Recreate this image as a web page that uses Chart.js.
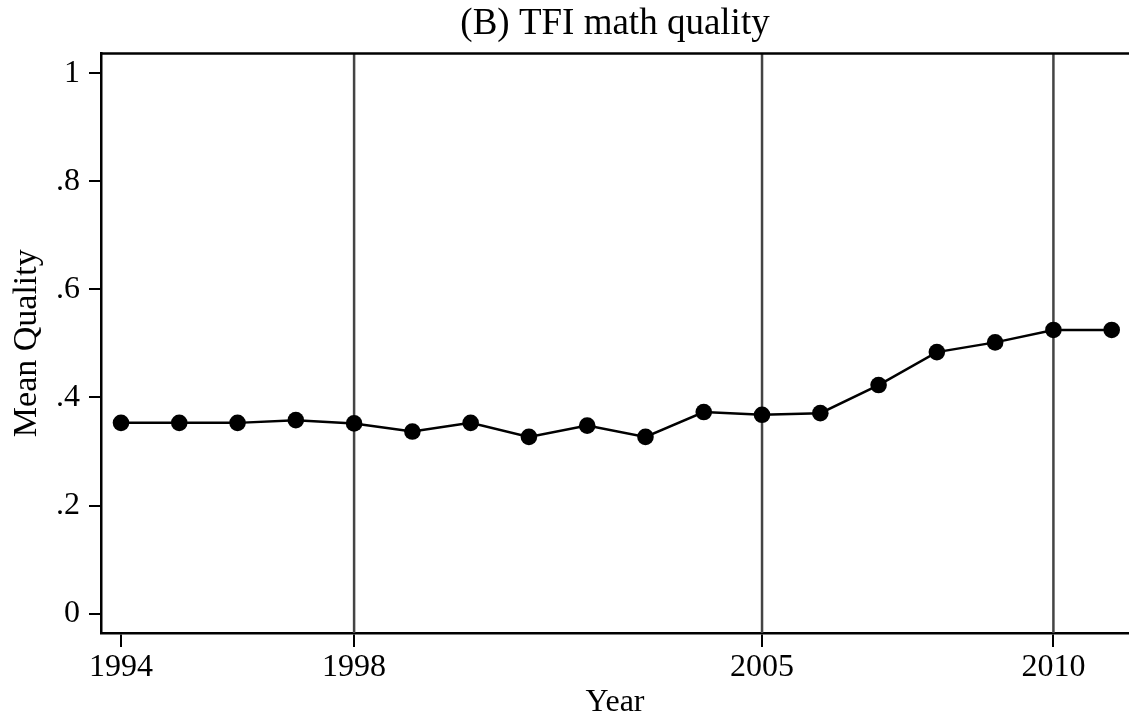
<!DOCTYPE html>
<html>
<head>
<meta charset="utf-8">
<script src="https://cdn.jsdelivr.net/npm/chart.js@4.4.1/dist/chart.umd.min.js"></script>
<style>
  html, body { margin: 0; padding: 0; background: #fff; overflow: hidden; }
  #wrap { width: 1129px; height: 723px; }
</style>
</head>
<body>
<div id="wrap"><canvas id="chart"></canvas></div>
<script>
// --- Data ---
const years = [1994, 1995, 1996, 1997, 1998, 1999, 2000, 2001, 2002, 2003, 2004, 2005, 2006, 2007, 2008, 2009, 2010, 2011];
const meanQuality = [0.353, 0.353, 0.353, 0.358, 0.352, 0.337, 0.353, 0.327, 0.348, 0.327, 0.373, 0.368, 0.371, 0.423, 0.484, 0.502, 0.525, 0.525];
const xTicks = [1994, 1998, 2005, 2010];
const yTicks = [0, 0.2, 0.4, 0.6, 0.8, 1];
const yTickLabels = ['0', '.2', '.4', '.6', '.8', '1'];
const policyYears = [1998, 2005, 2010];

const FONT = '"Liberation Serif", "DejaVu Serif", serif';

// vertical policy lines + top frame line
const framePlugin = {
    id: 'frame',
    beforeDatasetsDraw(chart) {
        const { ctx, chartArea, scales } = chart;
        ctx.save();
        ctx.strokeStyle = '#444444';
        ctx.lineWidth = 2.5;
        policyYears.forEach(yr => {
            const px = scales.x.getPixelForValue(yr);
            ctx.beginPath();
            ctx.moveTo(px, chartArea.top);
            ctx.lineTo(px, chartArea.bottom);
            ctx.stroke();
        });
        ctx.strokeStyle = '#000';
        ctx.lineWidth = 2.5;
        ctx.beginPath();
        ctx.moveTo(chartArea.left, chartArea.top);
        ctx.lineTo(chartArea.right, chartArea.top);
        ctx.stroke();
        ctx.restore();
    }
};

const ctx = document.getElementById('chart').getContext('2d');
new Chart(ctx, {
    type: 'line',
    data: {
        datasets: [{
            data: years.map((yr, i) => ({ x: yr, y: meanQuality[i] })),
            borderColor: '#000',
            borderWidth: 2.5,
            tension: 0,
            pointRadius: 8.3,
            pointBackgroundColor: '#000',
            pointBorderWidth: 0,
            clip: false
        }]
    },
    options: {
        responsive: true,
        maintainAspectRatio: false,
        animation: false,
        layout: { padding: 0, autoPadding: false },
        plugins: {
            legend: { display: false },
            tooltip: { enabled: false },
            title: {
                display: true,
                text: '(B) TFI math quality',
                color: '#000',
                fullSize: false,
                font: { family: FONT, size: 37, weight: 'normal' },
                padding: { top: 2, bottom: 7 }
            }
        },
        scales: {
            x: {
                type: 'linear',
                min: 1993.657,
                max: 2011.297,
                afterBuildTicks: scale => { scale.ticks = xTicks.map(v => ({ value: v })); },
                afterFit: scale => { scale.height = 90; scale.paddingLeft = 0; scale.paddingRight = 0; },
                ticks: {
                    color: '#000',
                    font: { family: FONT, size: 32 },
                    padding: 1,
                    maxRotation: 0,
                    autoSkip: false,
                    callback: v => String(v)
                },
                grid: { drawOnChartArea: false, drawTicks: true, tickLength: 14, color: '#000', lineWidth: 2 },
                border: { display: true, color: '#000', width: 2.5 },
                title: {
                    display: true,
                    text: 'Year',
                    color: '#000',
                    font: { family: FONT, size: 32 },
                    padding: { top: 0, bottom: 1 }
                }
            },
            y: {
                min: -0.036,
                max: 1.037,
                afterBuildTicks: scale => { scale.ticks = yTicks.map(v => ({ value: v })); },
                afterFit: scale => { scale.width = 101; scale.paddingTop = 0; scale.paddingBottom = 0; },
                ticks: {
                    color: '#000',
                    font: { family: FONT, size: 32 },
                    padding: 9,
                    autoSkip: false,
                    callback: v => yTickLabels[yTicks.indexOf(v)]
                },
                grid: { drawOnChartArea: false, drawTicks: true, tickLength: 12, color: '#000', lineWidth: 2 },
                border: { display: true, color: '#000', width: 2.5 },
                title: {
                    display: true,
                    text: 'Mean Quality',
                    color: '#000',
                    font: { family: FONT, size: 34 },
                    padding: { top: 7, bottom: 0 }
                }
            }
        }
    },
    plugins: [framePlugin]
});
</script>
</body>
</html>
